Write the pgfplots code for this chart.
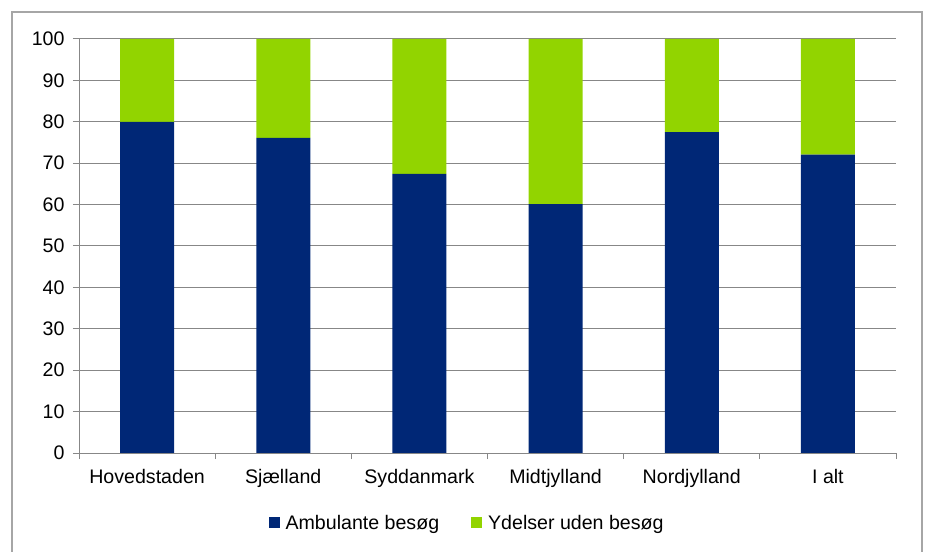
\documentclass[border=0pt]{standalone}
\usepackage{pgfplots}
\pgfplotsset{compat=1.18}
\usepackage{fontspec}
\setmainfont{Liberation Sans}
\definecolor{ambblue}{HTML}{002776}
\definecolor{ydgreen}{HTML}{92D400}
\definecolor{gridgray}{HTML}{878787}
\definecolor{framegray}{HTML}{A6A6A6}
\newcommand{\lblfont}{\fontsize{19.6bp}{24bp}\selectfont}
\pgfplotsset{
  sqlegend/.style={legend image code/.code={\fill[##1,draw=none] (0bp,-5.5bp) rectangle (11bp,5.5bp); \path (15bp,0bp);}}
}

\begin{document}
\begin{tikzpicture}
\useasboundingbox (0bp,0bp) rectangle (928bp,552bp);
% outer chart frame, bottom edge falls off the page
\draw[framegray, line width=1.3bp] (12bp,-2bp) -- (12bp,540bp) -- (922bp,540bp) -- (922bp,-2bp);
\begin{axis}[
  at={(79bp,99bp)}, anchor=south west,
  scale only axis, width=817bp, height=414bp,
  ybar stacked, bar width=54bp,
  xmin=-0.5, xmax=5.5, ymin=0, ymax=100,
  ytick={0,10,...,100},
  ymajorgrids, grid style={draw=gridgray, line width=1bp},
  axis x line*=bottom, axis y line*=left,
  axis line style={draw=gridgray, line width=1bp},
  xtick={0,...,5},
  xticklabels={Hovedstaden, Sjælland, Syddanmark, Midtjylland, Nordjylland, I alt},
  minor xtick={-0.5,0.5,...,5.5},
  major x tick style={draw=none},
  tick align=outside, major tick length=6bp, minor tick length=6bp,
  tick style={draw=gridgray, line width=1bp},
  tick label style={font=\lblfont, text=black},
  xticklabel style={yshift=-7bp},
  yticklabel style={xshift=-5bp},
  /pgf/number format/assume math mode=true,
  legend style={at={(axis description cs:0.475,-0.169)}, anchor=center,
    draw=none, fill=none, font=\lblfont, legend columns=2,
    /tikz/every even column/.append style={column sep=30bp}},
  legend cell align=left,
]
\addplot[fill=ambblue, draw=none, sqlegend]
  coordinates {(0,80.0) (1,76.1) (2,67.4) (3,60.1) (4,77.5) (5,72.1)};
\addplot[fill=ydgreen, draw=none, sqlegend]
  coordinates {(0,20.0) (1,23.9) (2,32.6) (3,39.9) (4,22.5) (5,27.9)};
\legend{Ambulante besøg, Ydelser uden besøg}
\end{axis}
\end{tikzpicture}
\end{document}
